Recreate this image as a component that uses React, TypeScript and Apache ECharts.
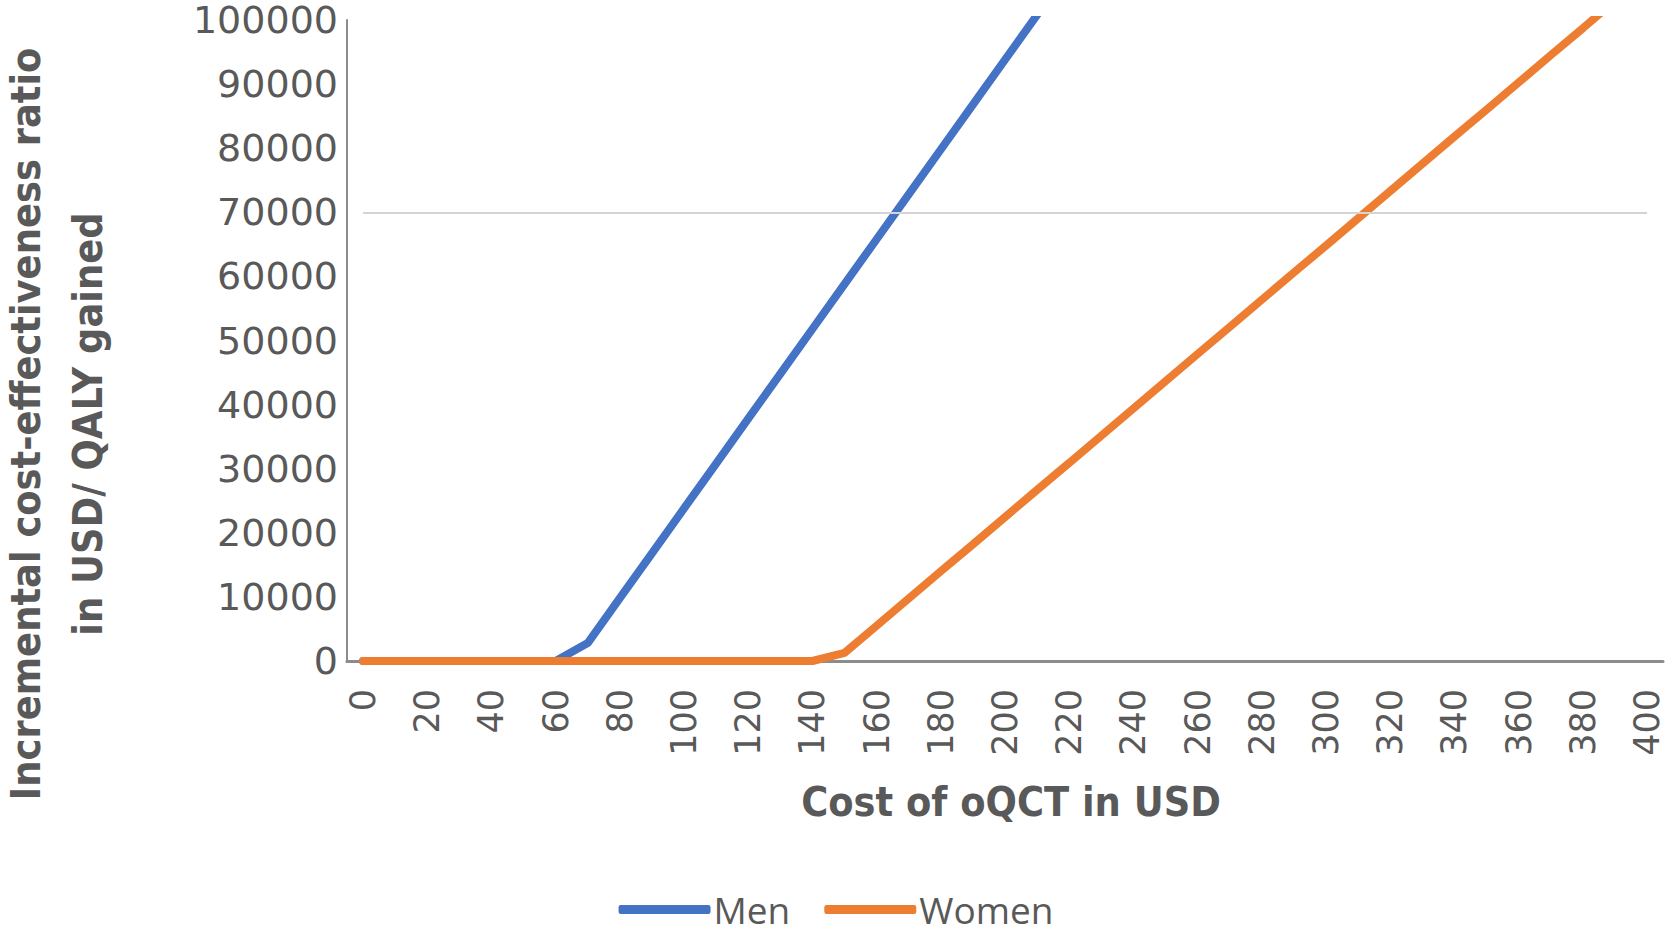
import React, { useEffect, useRef } from "react";
import * as echarts from "echarts";

const categories: string[] = [
  "0", "10", "20", "30", "40", "50", "60", "70", "80", "90",
  "100", "110", "120", "130", "140", "150", "160", "170", "180", "190",
  "200", "210", "220", "230", "240", "250", "260", "270", "280", "290",
  "300", "310", "320", "330", "340", "350", "360", "370", "380", "390", "400",
];

const menValues: (number | null)[] = [
  0, 0, 0, 0, 0, 0, 0, 2800, 9800, 16800,
  23800, 30800, 37800, 44800, 51800, 58800, 65800, 72800, 79800, 86800,
  93800, 100800, 107800, null, null, null, null, null, null, null,
  null, null, null, null, null, null, null, null, null, null, null,
];

const womenValues: number[] = [
  0, 0, 0, 0, 0, 0, 0, 0, 0, 0,
  0, 0, 0, 0, 0, 1270, 5500, 9750, 14000, 18200,
  22450, 26700, 30900, 35150, 39400, 43650, 47900, 52100, 56350, 60600,
  64800, 69050, 73300, 77550, 81800, 86000, 90250, 94500, 98700, 103000, 107200,
];

const thresholdValue = 70000;
const yTicks = { min: 0, max: 100000, interval: 10000 };

const seriesNames = ["Men", "Women"];
const textColor = "#595959";

export default function App() {
  const ref = useRef<HTMLDivElement>(null);

  useEffect(() => {
    if (!ref.current) return;
    const chart = echarts.init(ref.current, undefined, { renderer: "svg" });
    const titleFont = "'Liberation Sans Narrow', 'DejaVu Sans Condensed', 'Open Sans', sans-serif";
    chart.setOption({
      animation: false,
      backgroundColor: "#ffffff",
      grid: { left: 347, right: 9, top: 20, bottom: 275, containLabel: false },
      legend: {
        data: seriesNames,
        top: 891,
        left: "center",
        padding: 0,
        itemGap: 34,
        itemWidth: 92,
        itemHeight: 9,
        icon: "roundRect",
        textStyle: {
          color: textColor,
          fontSize: 37,
          fontFamily: "'Open Sans', sans-serif",
          padding: [0, 0, 0, -2],
        },
      },
      xAxis: {
        type: "category",
        data: categories,
        boundaryGap: true,
        axisLine: { show: true, lineStyle: { color: "#8c8c8c", width: 3 } },
        axisTick: { show: false },
        axisLabel: {
          interval: 1,
          rotate: 90,
          margin: 28,
          color: textColor,
          fontSize: 35,
          fontFamily: "'DejaVu Sans', sans-serif",
        },
        splitLine: { show: false },
      },
      yAxis: {
        type: "value",
        min: yTicks.min,
        max: yTicks.max,
        interval: yTicks.interval,
        axisLine: { show: true, lineStyle: { color: "#8c8c8c", width: 2 } },
        axisTick: { show: false },
        splitLine: { show: false },
        axisLabel: {
          margin: 9,
          color: textColor,
          fontSize: 38,
          fontFamily: "'DejaVu Sans', sans-serif",
          formatter: (v: number) => String(v),
        },
      },
      series: [
        {
          name: "Men",
          type: "line",
          data: menValues,
          showSymbol: false,
          symbol: "none",
          clip: true,
          lineStyle: { color: "#4472C4", width: 8, cap: "round" },
          itemStyle: { color: "#4472C4" },
          z: 2,
        },
        {
          name: "Women",
          type: "line",
          data: womenValues,
          showSymbol: false,
          symbol: "none",
          clip: true,
          lineStyle: { color: "#ED7D31", width: 8, cap: "round" },
          itemStyle: { color: "#ED7D31" },
          z: 3,
        },
        {
          name: "Threshold",
          type: "line",
          data: [],
          z: 5,
          markLine: {
            silent: true,
            symbol: "none",
            label: { show: false },
            lineStyle: { color: "#d4d4d4", width: 2, type: "solid" },
            data: [
              [
                { coord: [categories[0], thresholdValue] },
                { coord: [categories[categories.length - 1], thresholdValue] },
              ],
            ],
          },
        },
      ],
      graphic: [
        {
          type: "text",
          x: 57,
          y: 424,
          rotation: Math.PI / 2,
          style: {
            text: "Incremental cost-effectiveness ratio\nin USD/ QALY gained",
            font: `bold 41px ${titleFont}`,
            fill: textColor,
            align: "center",
            verticalAlign: "middle",
            lineHeight: 62,
          },
        },
        {
          type: "text",
          x: 1011,
          y: 802,
          style: {
            text: "Cost of oQCT in USD",
            font: `bold 41px ${titleFont}`,
            fill: textColor,
            align: "center",
            verticalAlign: "middle",
          },
        },
      ],
    });
    return () => chart.dispose();
  }, []);

  return (
    <div
      ref={ref}
      style={{ position: "fixed", left: 0, top: 0, width: 1672, height: 936 }}
    />
  );
}
